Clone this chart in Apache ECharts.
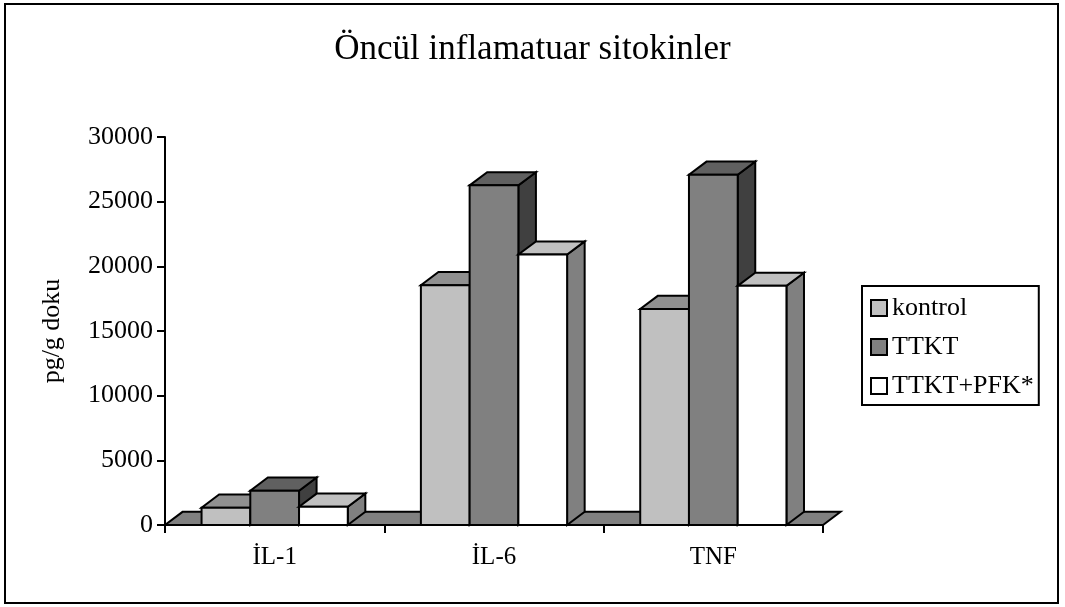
<!DOCTYPE html>
<html>
<head>
<meta charset="utf-8">
<script src="https://cdn.jsdelivr.net/npm/echarts@6/dist/echarts.min.js"></script>
<style>
html,body{margin:0;padding:0;background:#fff;}
#chart{width:1065px;height:607px;}
</style>
</head>
<body>
<div id="chart"></div>
<script>
const categories = ['İL-1', 'İL-6', 'TNF'];
const seriesNames = ['kontrol', 'TTKT', 'TTKT+PFK*'];
const kontrol = [1340, 18540, 16700];
const ttkt = [2650, 26260, 27080];
const ttktPfk = [1410, 20910, 18490];
const yTicks = [0, 5000, 10000, 15000, 20000, 25000, 30000];

const faceColors = [
  { front: '#C0C0C0', top: '#909090', side: '#606060' },
  { front: '#808080', top: '#606060', side: '#404040' },
  { front: '#FFFFFF', top: '#C0C0C0', side: '#808080' }
];
const FONT = '"Liberation Serif", "Times New Roman", serif';

function barRenderer(s) {
  return function (params, api) {
    const i = api.value(0), v = api.value(1);
    const base = api.coord([i, 0]);
    const top = api.coord([i, v]);
    const band = api.size([1, 0])[0];
    const bw = band / 4.5;
    const x0 = base[0] - 1.5 * bw + s * bw, x1 = x0 + bw;
    const yb = base[1], yt = top[1];
    const dx = bw * 0.36, dy = bw * 0.27;
    const c = faceColors[s];
    const st = (fill) => ({ fill: fill, stroke: '#000', lineWidth: 2 });
    return {
      type: 'group',
      children: [
        { type: 'polygon', shape: { points: [[x1, yb], [x1 + dx, yb - dy], [x1 + dx, yt - dy], [x1, yt]] }, style: st(c.side) },
        { type: 'polygon', shape: { points: [[x0, yt], [x1, yt], [x1 + dx, yt - dy], [x0 + dx, yt - dy]] }, style: st(c.top) },
        { type: 'polygon', shape: { points: [[x0, yb], [x1, yb], [x1, yt], [x0, yt]] }, style: st(c.front) }
      ]
    };
  };
}

function floorRenderer(params, api) {
  const cs = params.coordSys;
  const band = api.size([1, 0])[0];
  const bw = band / 4.5;
  const dx = bw * 0.36, dy = bw * 0.27;
  const yb = cs.y + cs.height;
  return {
    type: 'polygon',
    shape: { points: [[cs.x, yb], [cs.x + cs.width, yb], [cs.x + cs.width + dx, yb - dy], [cs.x + dx, yb - dy]] },
    style: { fill: '#808080', stroke: '#000', lineWidth: 2 }
  };
}

const valueSets = [kontrol, ttkt, ttktPfk];
const series = [{
  type: 'custom',
  name: '__floor',
  renderItem: floorRenderer,
  data: [[0, 0]],
  encode: { x: 0, y: 1 },
  silent: true,
  z: 1
}];
valueSets.forEach((vals, s) => {
  series.push({
    type: 'custom',
    name: seriesNames[s],
    renderItem: barRenderer(s),
    data: vals.map((v, i) => [i, v]),
    encode: { x: 0, y: 1 },
    itemStyle: { color: faceColors[s].front, borderColor: '#000', borderWidth: 2 },
    z: 2 + s
  });
});

const chart = echarts.init(document.getElementById('chart'), null, { renderer: 'canvas' });
chart.setOption({
  animation: false,
  backgroundColor: '#fff',
  title: {
    text: 'Öncül inflamatuar sitokinler',
    left: 'center',
    top: 27,
    textStyle: { fontFamily: FONT, fontSize: 35, fontWeight: 'normal', color: '#000' }
  },
  graphic: [{
    type: 'rect',
    shape: { x: 5, y: 4, width: 1053, height: 599 },
    style: { fill: 'none', stroke: '#000', lineWidth: 2 },
    z: 0
  }],
  legend: {
    data: seriesNames,
    orient: 'vertical',
    left: 862,
    top: 286,
    padding: [9, 5, 6, 8],
    itemGap: 13,
    itemWidth: 16,
    itemHeight: 16,
    icon: 'rect',
    borderColor: '#000',
    borderWidth: 2,
    itemStyle: { borderColor: '#000', borderWidth: 2 },
    textStyle: { fontFamily: FONT, fontSize: 26, color: '#000', lineHeight: 26 }
  },
  grid: { left: 165, right: 242, top: 137, bottom: 82, containLabel: false },
  xAxis: {
    type: 'category',
    data: categories,
    boundaryGap: true,
    axisLine: { lineStyle: { color: '#000', width: 2 } },
    axisTick: { show: true, length: 8, inside: false, lineStyle: { color: '#000', width: 2 } },
    axisLabel: { fontFamily: FONT, fontSize: 25, color: '#000', margin: 20 },
    splitLine: { show: false }
  },
  yAxis: {
    type: 'value',
    min: yTicks[0],
    max: yTicks[yTicks.length - 1],
    interval: yTicks[1] - yTicks[0],
    name: 'pg/g doku',
    nameLocation: 'middle',
    nameGap: 100,
    nameRotate: 90,
    nameTextStyle: { fontFamily: FONT, fontSize: 26, color: '#000' },
    axisLine: { show: true, lineStyle: { color: '#000', width: 2 } },
    axisTick: { show: true, length: 8, lineStyle: { color: '#000', width: 2 } },
    axisLabel: { fontFamily: FONT, fontSize: 26, color: '#000', margin: 12, formatter: (v) => String(v) },
    splitLine: { show: false }
  },
  series: series
});
</script>
</body>
</html>
